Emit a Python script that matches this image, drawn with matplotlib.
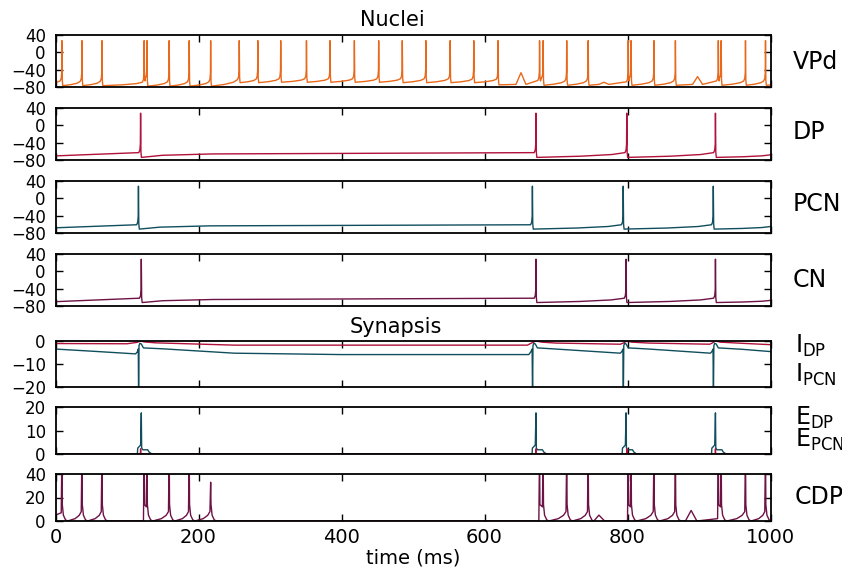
import matplotlib.pyplot as plt
import numpy as np

plt.rcParams['font.family'] = 'DejaVu Sans'
plt.rcParams['mathtext.default'] = 'regular'

# spike times (ms) of each nucleus
vpd_spikes = [9, 37, 65, 124, 128, 159, 187, 217, 257, 283, 315, 351, 384, 418, 452, 485,
              518, 552, 585, 619, 677, 682, 715, 745, 801, 805, 837, 867, 927, 931, 965, 993]
vpd_pre = [-66, -67, -67, -69, -60, -68, -68, -68, -63, -62, -61, -61, -61, -61, -61, -61,
           -61, -61, -62, -62, -65, -60, -66, -66, -68, -60, -66, -66, -66, -60, -66, -66]
vpd_reset = [-77, -77, -77, -66, -78, -78, -78, -78, -70, -70, -69, -69, -69, -69, -69, -70,
             -70, -70, -70, -75, -66, -76, -76, -76, -66, -76, -76, -76, -66, -76, -76, -76]
vpd_bumps = [651, 767, 898]
vpd_bump_peaks = [-47, -69, -56]

dp_spikes = [119, 672, 799, 923]
pcn_spikes = [116, 667, 794, 920]
cn_spikes = [120, 672, 798, 923]

# conductance driven by VPd
cdp_spikes = [9, 37, 65, 124, 128, 159, 187, 217, 677, 682, 715, 745, 801, 805, 837, 867,
              927, 931, 965, 993]
cdp_pre = [7, 8, 8, 0, 12, 8, 8, 8, 0, 12, 8, 8, 0, 12, 8, 8, 2, 12, 8, 8]
cdp_peak = [60, 60, 60, 60, 60, 60, 60, 33, 60, 60, 60, 60, 60, 60, 60, 60,
            60, 60, 60, 60]
cdp_bumps = [760, 889]
cdp_bump_peaks = [5, 9]

# inhibitory synaptic currents
idp_t = [0, 100, 114, 119, 124, 140, 250, 660, 665, 672, 680, 700, 790, 795, 799, 806, 830,
         915, 919, 923, 930, 960, 1000]
idp_v = [-1.1, -1.2, -0.6, 0.0, -0.4, -0.8, -1.8, -1.8, -1.0, 0.0, -0.5, -0.9, -1.4, -0.8,
         0.0, -0.5, -0.9, -1.4, -0.8, 0.0, -0.5, -1.0, -1.6]
ipcn_t = [0, 60, 112, 115, 115.8, 116.2, 116.8, 118, 120, 123, 150, 250, 400, 662, 665,
          666.6, 667.2, 667.8, 669, 671, 674, 700, 790, 792, 793.6, 794.2, 794.8, 796, 798,
          801, 830, 916, 918, 919.6, 920.2, 920.8, 922, 924, 927, 960, 1000]
ipcn_v = [-3.5, -4.6, -5.6, -4.5, -3.5, -24, -2.0, -1.0, -1.3, -3.0, -3.4, -5.3, -5.9, -5.9,
          -4.6, -3.5, -24, -2.0, -1.0, -1.3, -3.0, -3.5, -5.3, -4.6, -3.5, -24, -2.0, -1.0,
          -1.3, -3.0, -3.5, -5.3, -4.6, -3.5, -24, -2.0, -1.0, -1.3, -3.0, -3.6, -4.6]

colors = {'VPd': '#e8691c', 'DP': '#b0123b', 'PCN': '#104e5e', 'CN': '#6d1245'}


def membrane(spikes, pre, reset, v0, v_end, peak=28, rest=None, tau=100,
             bumps=(), bump_peaks=(), bump_base=-74):
    n = len(spikes)
    pre = np.broadcast_to(pre, n)
    reset = np.broadcast_to(reset, n)
    xs, ys = [0.0], [v0]
    for i, s in enumerate(spikes):
        p, r = pre[i], reset[i]
        xs += [s - 2.5, s - 1.0, s - 0.3, s, s + 0.5, s + 1.2]
        ys += [p, p + 6, p + 20, peak, r + 12, r]
        if i + 1 < n:
            nxt, target = spikes[i + 1], pre[i + 1]
            end = nxt - 2.5
        else:
            nxt, target = 1000, v_end
            end = 1000
        inside = [(b, bp) for b, bp in zip(bumps, bump_peaks) if s < b < nxt]
        if inside:
            for b, bp in inside:
                xs += [b - 7, b, b + 7]
                ys += [bump_base, bp, bump_base]
        elif rest is not None and nxt - s > 2 * tau:
            # slow relaxation towards the resting level
            xs += [s + 0.3 * tau, s + tau]
            ys += [r + 0.6 * (rest - r), rest]
        elif end - s > 6:
            # accelerating ramp up to the next spike
            xs += [s + 0.5 * (end - s), s + 0.85 * (end - s)]
            ys += [r + 0.25 * (target - r), r + 0.6 * (target - r)]
        if i + 1 == n:
            xs.append(1000)
            ys.append(v_end)
    return np.array(xs), np.array(ys)


def conductance(spikes, pre, peaks, v0, bumps, bump_peaks):
    xs, ys = [0.0], [v0]
    n = len(spikes)
    for i, s in enumerate(spikes):
        xs += [s - 1, s, s + 0.5]
        ys += [pre[i], peaks[i], 14]
        nxt = spikes[i + 1] if i + 1 < n else 1010
        gap = nxt - s
        if gap < 8:
            continue
        xs += [s + 2, s + 5, s + 8]
        ys += [5, 1, 0]
        if gap <= 45 and i + 1 < n:
            xs += [s + 8 + 0.55 * (gap - 9), s + 8 + 0.85 * (gap - 9)]
            ys += [0.25 * pre[i + 1], 0.6 * pre[i + 1]]
    for b, bp in zip(bumps, bump_peaks):
        xs += [b - 8, b, b + 8]
        ys += [0, bp, 0]
    xs, ys = np.array(xs), np.array(ys)
    order = np.argsort(xs, kind='stable')
    return xs[order], ys[order]


def pulses(events, dt, dv):
    xs, ys = [0.0], [0.0]
    for s in events:
        xs += [s + d for d in dt]
        ys += list(dv)
    xs.append(1000)
    ys.append(0.0)
    return np.array(xs), np.array(ys)


W, H = 842, 569
fig = plt.figure(figsize=(W / 100, H / 100), dpi=100)
left, right = 55.5, 770.5
boxes = [(35, 87), (108, 160), (181, 233), (254, 306), (341, 387), (407, 454), (474, 521)]
axes = []
for top, bot in boxes:
    ax = fig.add_axes([left / W, 1 - bot / H, (right - left) / W, (bot - top) / H])
    ax.set_xlim(0, 1000)
    ax.set_xticks([0, 200, 400, 600, 800, 1000])
    ax.tick_params(direction='in', top=True, right=True, length=5, width=1,
                   labelsize=12, pad=7, labelbottom=False)
    for sp in ax.spines.values():
        sp.set_linewidth(1.3)
    axes.append(ax)

lw = 1.0
x, y = membrane(vpd_spikes, vpd_pre, vpd_reset, -70, -75, peak=27,
                bumps=vpd_bumps, bump_peaks=vpd_bump_peaks)
axes[0].plot(x, y, color=colors['VPd'], lw=lw)
x, y = membrane(dp_spikes, -63, -74, -70.5, -68, rest=-66)
axes[1].plot(x, y, color=colors['DP'], lw=lw)
x, y = membrane(pcn_spikes, -61, -71, -68, -65, rest=-63.5)
axes[2].plot(x, y, color=colors['PCN'], lw=lw)
x, y = membrane(cn_spikes, -62, -72, -70, -67, rest=-65)
axes[3].plot(x, y, color=colors['CN'], lw=lw)
for ax in axes[:4]:
    ax.set_ylim(-80, 40)
    ax.set_yticks([-80, -40, 0, 40])

axes[4].plot(idp_t, idp_v, color=colors['DP'], lw=lw)
axes[4].plot(ipcn_t, ipcn_v, color=colors['PCN'], lw=lw)
axes[4].set_ylim(-20, 0)
axes[4].set_yticks([-20, -10, 0])

x, y = pulses(cn_spikes, [-5.5, -5, -1, 0, 0.5, 2, 9, 11, 15],
              [0, 2.5, 3.8, 17.5, 2.6, 1.8, 1.8, 0.8, 0])
axes[5].plot(x, y, color=colors['PCN'], lw=lw)
x, y = pulses(dp_spikes, [-0.3, 0, 0.4], [0, 2.2, 0])
axes[5].plot(x, y, color=colors['DP'], lw=lw)
axes[5].set_ylim(0, 20)
axes[5].set_yticks([0, 10, 20])

x, y = conductance(cdp_spikes, cdp_pre, cdp_peak, 5, cdp_bumps, cdp_bump_peaks)
axes[6].plot(x, y, color=colors['CN'], lw=lw)
axes[6].set_ylim(0, 40)
axes[6].set_yticks([0, 20, 40])
axes[6].tick_params(labelbottom=True, labelsize=14, axis='x', pad=5)
axes[6].set_xlabel('time (ms)', fontsize=14, labelpad=1)

fig.text(392 / W, 1 - 20 / H, 'Nuclei', fontsize=15, ha='center', va='center')
fig.text(396 / W, 1 - 327 / H, 'Synapsis', fontsize=15, ha='center', va='center')

lab = dict(fontsize=17, ha='left')
fig.text(793 / W, 1 - 62 / H, 'VPd', va='center', **lab)
fig.text(793 / W, 1 - 132 / H, 'DP', va='center', **lab)
fig.text(793 / W, 1 - 204 / H, 'PCN', va='center', **lab)
fig.text(793 / W, 1 - 280 / H, 'CN', va='center', **lab)
fig.text(795 / W, 1 - 353 / H, r'I$_{DP}$', va='baseline', **lab)
fig.text(795 / W, 1 - 382 / H, r'I$_{PCN}$', va='baseline', **lab)
fig.text(795 / W, 1 - 425 / H, r'E$_{DP}$', va='baseline', **lab)
fig.text(795 / W, 1 - 447 / H, r'E$_{PCN}$', va='baseline', **lab)
fig.text(795 / W, 1 - 497 / H, 'CDP', va='center', **lab)

fig.savefig('out.png', dpi=100)
